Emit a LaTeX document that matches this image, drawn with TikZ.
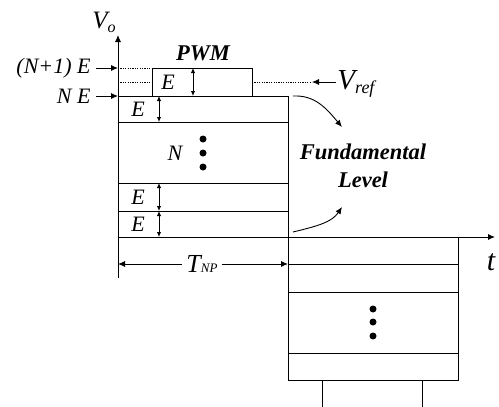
\documentclass[tikz,border=0pt]{standalone}
\usepackage{fontspec}
\setmainfont{Liberation Serif}
\usetikzlibrary{arrows.meta}
\begin{document}
\begin{tikzpicture}[x=1pt,y=-1pt, line width=0.9pt,
  arr/.style={-{Latex[length=7pt,width=6pt]}},
  darr/.style={{Latex[length=5pt,width=4.5pt]}-{Latex[length=5pt,width=4.5pt]}},
  lbl/.style={inner sep=0pt, font=\fontsize{22}{22}\selectfont\itshape},
  bold/.style={inner sep=0pt, font=\fontsize{22.5}{28}\selectfont\bfseries\itshape, align=center},
  dotline/.style={dash pattern=on 1.2pt off 1.2pt, line width=0.8pt},
  bullet/.style={circle, fill=black, inner sep=0pt, minimum size=7pt}]
\useasboundingbox (0,0) rectangle (499,407);
% axes
\coordinate (O) at (118,237);
\coordinate (Ytop) at (118,35);
\coordinate (Ybot) at (118,278);
\coordinate (Tend) at (495,237);
\draw[arr] (Ybot) -- (Ytop);
\draw[arr] (O) -- (Tend);
\node[inner sep=0pt, anchor=east, font=\fontsize{25}{25}\selectfont\itshape] (vo) at (116,22) {V\raisebox{-4pt}{\fontsize{16}{16}\selectfont o}};
\node[inner sep=0pt, font=\fontsize{30}{30}\selectfont\itshape] (t) at (491,262) {t};
% fundamental block (positive)
\draw (118,96) rectangle (288,237);
\draw (118,122) -- (288,122);
\draw (118,183) -- (288,183);
\draw (118,211) -- (288,211);
% PWM block
\draw (152,96) -- (152,68) -- (252,68) -- (252,96);
% level markers
\coordinate (NE) at (118,96);
\coordinate (N1E) at (118,68);
\coordinate (NEs) at (96,96);
\coordinate (N1Es) at (96,68);
\node[lbl, anchor=east] (lNE) at (91,96) {N E};
\node[lbl, anchor=east] (lN1E) at (91,68) {(N+1) E};
\draw[arr] (NEs) -- (NE);
\draw[arr] (N1Es) -- (N1E);
\draw[dotline] (N1E) -- (152,68);
\draw[dotline] (118,82) -- (152,82);
\draw[dotline] (252,82) -- (312,82);
% Vref
\coordinate (vrt) at (312,82);
\node[inner sep=0pt, anchor=west, font=\fontsize{29}{29}\selectfont\itshape] (vref) at (337,84) {V\raisebox{-4pt}{\fontsize{18}{18}\selectfont ref}};
\draw[arr] (336,82) -- (vrt);
\node[bold] (pwm) at (203,53) {PWM};
% E labels and double arrows
\node[lbl] (e0) at (168,82) {E};
\draw[darr] (193,68) -- (193,96);
\node[lbl] (e1) at (138,109) {E};
\draw[darr] (159,96) -- (159,122);
\node[lbl] (e2) at (138,197) {E};
\draw[darr] (159,183) -- (159,211);
\node[lbl] (e3) at (138,224) {E};
\draw[darr] (159,211) -- (159,237);
\node[lbl] (n) at (175,153) {N};
\node[bullet] (d1) at (203,139) {};
\node[bullet] (d2) at (203,153) {};
\node[bullet] (d3) at (203,167) {};
% Fundamental level
\node[bold] (fl) at (363,166) {Fundamental\\Level};
\draw[arr] (293,96) .. controls (315,95) and (326,108) .. (342,127);
\draw[arr] (293,232) .. controls (318,226) and (332,222) .. (342,207);
% negative block
\draw (288,237) rectangle (458,380);
\draw (288,264) -- (458,264);
\draw (288,292) -- (458,292);
\draw (288,353) -- (458,353);
\node[bullet] (d4) at (373,309) {};
\node[bullet] (d5) at (373,322) {};
\node[bullet] (d6) at (373,336) {};
\draw (322,380) -- (322,407);
\draw (422,380) -- (422,407);
% T_NP
\coordinate (tl) at (118,264);
\coordinate (tr) at (288,264);
\draw[{Latex[length=7pt,width=6pt]}-{Latex[length=7pt,width=6pt]}] (tl) -- (tr);
\node[fill=white, inner xsep=4pt, inner ysep=2pt, font=\fontsize{26}{26}\selectfont\itshape] (tnp) at (202,264) {T{\fontsize{13}{13}\selectfont NP}};
\end{tikzpicture}
\end{document}
